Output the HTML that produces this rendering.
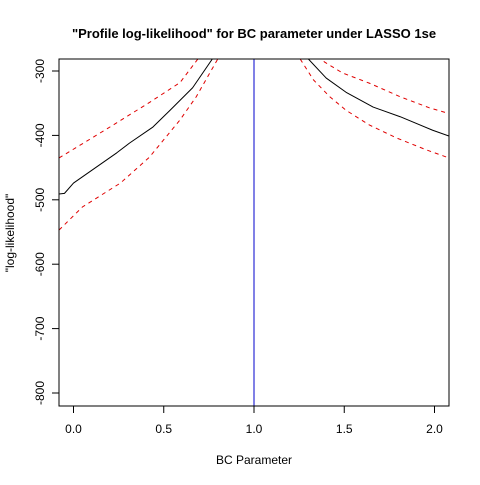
<!DOCTYPE html>
<html><head><meta charset="utf-8"><style>
body{margin:0;background:#fff;}
svg text{font-family:"Liberation Sans",Arial,sans-serif;}
</style></head><body>
<svg id="chart" width="480" height="480">
<text x="254" y="38" text-anchor="middle" font-size="13" font-weight="bold">"Profile log-likelihood" for BC parameter under LASSO 1se</text>
<text x="254" y="464" text-anchor="middle" font-size="12">BC Parameter</text>
<text transform="translate(14,233) rotate(-90)" text-anchor="middle" font-size="12">"log-likelihood"</text>
<defs><clipPath id="pc"><rect x="59" y="59" width="390" height="347"/></clipPath></defs>
<g id="axes"></g>
<g id="marks" clip-path="url(#pc)"></g>
<rect x="59" y="59" width="390" height="347" fill="none" stroke="#000"/>
</svg>
<script>
const xTicks=[0,0.5,1,1.5,2];
const xTickLabels=["0.0","0.5","1.0","1.5","2.0"];
const yTicks=[-300,-400,-500,-600,-700,-800];
const yTickLabels=["-300","-400","-500","-600","-700","-800"];
const leftX=[-0.08,-0.05,0.0,0.24,0.31,0.44,0.535,0.66,0.77,0.8];
const leftMean=[-491,-490,-474,-427,-412,-387,-361,-326,-281,-265];
const leftUpperX=[-0.08,0.19,0.42,0.59,0.69,0.72];
const leftUpper=[-435,-389,-349,-318,-281,-270];
const leftLowerX=[-0.08,0.05,0.26,0.42,0.59,0.68,0.8,0.82];
const leftLower=[-547,-511,-474,-434,-376,-340,-281,-270];
const rightX=[1.28,1.30,1.40,1.51,1.66,1.81,1.99,2.08];
const rightMean=[-270,-281,-311,-333,-356,-371,-392,-401];
const rightUpperX=[1.36,1.39,1.49,1.64,1.81,1.97,2.08];
const rightUpper=[-275,-286,-303,-319,-340,-357,-366];
const rightLowerX=[1.24,1.255,1.33,1.42,1.51,1.64,1.79,1.96,2.08];
const rightLower=[-270,-281,-314,-340,-361,-384,-404,-423,-435];
const vline=[1.0];
const sx=v=>73.5+(v-0)*180.5;
const sy=v=>71+(-300-v)*0.644;
const NS="http://www.w3.org/2000/svg";
const axes=document.getElementById('axes'),marks=document.getElementById('marks');
function mk(t,a,p){const e=document.createElementNS(NS,t);for(const k in a)e.setAttribute(k,a[k]);p.appendChild(e);return e;}
xTicks.forEach((v,i)=>{
 const l=mk('line',{x1:sx(v),x2:sx(v),y1:406,y2:413,stroke:'#000'},axes);
 
 
 const t=mk('text',{x:sx(v),y:433,'text-anchor':'middle','font-size':12},axes);t.textContent=xTickLabels[i];
 
 
});
yTicks.forEach((v,i)=>{
 const l=mk('line',{x1:52,x2:59,y1:sy(v),y2:sy(v),stroke:'#000'},axes);
 
 
 const t=mk('text',{transform:`translate(44,${sy(v)}) rotate(-90)`,'text-anchor':'middle','font-size':12},axes);t.textContent=yTickLabels[i];
 
 
});
function line(xs,ys,col,dash,name){
 const p=mk('polyline',{points:xs.map((x,i)=>sx(x)+','+sy(ys[i])).join(' '),fill:'none',stroke:col,'stroke-width':1,'stroke-linejoin':'round'},marks);
 if(dash)p.setAttribute('stroke-dasharray','4,4');
 
 
}
line(leftX,leftMean,'#000',false,'left-profile-line');
line(leftUpperX,leftUpper,'#e00000',true,'left-upper-bound');
line(leftLowerX,leftLower,'#e00000',true,'left-lower-bound');
line(rightX,rightMean,'#000',false,'right-profile-line');
line(rightUpperX,rightUpper,'#e00000',true,'right-upper-bound');
line(rightLowerX,rightLower,'#e00000',true,'right-lower-bound');
const vl=mk('line',{x1:sx(vline[0]),x2:sx(vline[0]),y1:59,y2:406,stroke:'#0000cc'},marks);


</script>
</body></html>
